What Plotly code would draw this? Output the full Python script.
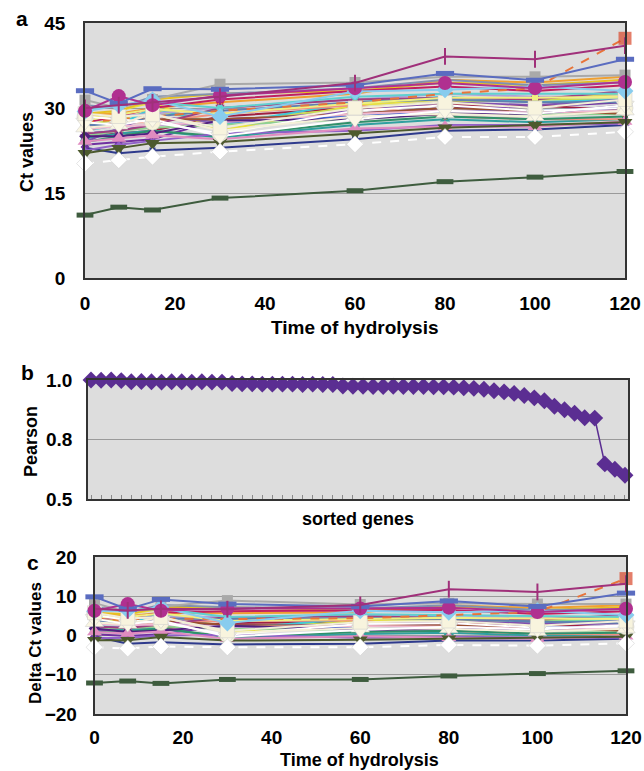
import plotly.graph_objects as go

# ---------------- data ----------------
time_min = [0, 7.5, 15, 30, 60, 80, 100, 120]
x_ticks = [0, 20, 40, 60, 80, 100, 120]

# Ct of the low-Ct (high-abundance) gene, dark green bars
ct_green = [11.1, 12.5, 12.0, 14.1, 15.4, 17.0, 17.8, 18.8]
# normalising Ct per time point (Ct in panel a minus Delta Ct in panel c)
normaliser_ct = [23.2, 24.1, 24.2, 25.3, 26.6, 27.3, 27.5, 27.8]

ct_magenta_plus = [30.0, 30.5, 31.0, 32.0, 34.4, 39.1, 38.6, 41.0]
ct_orange_dash = [27.5, 28.0, 28.5, 29.5, 31.0, 32.5, 33.5, 42.3]
ct_slate = [33.05, 30.8, 33.4, 33.3, 34.0, 36.1, 34.9, 38.6]
ct_magenta_circle = [29.5, 32.1, 30.5, 32.2, 33.5, 34.4, 33.5, 34.6]
ct_grey = [31.4, 30.0, 31.5, 34.2, 34.5, 35.5, 35.5, 35.8]
ct_lightblue = [29.4, 30.5, 31.4, 28.5, 32.9, 33.2, 33.8, 33.0]
ct_pink = [24.1, 24.6, 25.2, 24.5, 26.4, 26.7, 26.7, 27.6]
ct_olive = [22.0, 22.9, 23.8, 24.0, 25.5, 26.5, 27.0, 27.5]
ct_white = [20.2, 20.8, 21.4, 22.3, 23.6, 24.9, 24.9, 25.8]
ct_cream1 = [28.5, 28.0, 27.5, 25.5, 29.5, 30.5, 29.5, 30.0]
ct_cream2 = [26.5, 27.0, 29.0, 26.0, 28.5, 29.0, 28.5, 29.5]
ct_cream3 = [27.5, 27.0, 28.0, 25.0, 28.0, 29.5, 29.0, 30.5]
ct_cream4 = [29.0, 28.5, 28.8, 26.5, 30.0, 31.0, 30.0, 31.5]
ct_navy = [23.0, 22.0, 22.5, 23.0, 24.5, 26.0, 26.2, 27.0]
ct_purple = [23.5, 24.0, 24.5, 28.0, 29.0, 30.0, 30.2, 31.0]
ct_darkred = [25.0, 25.5, 26.0, 28.5, 30.0, 30.5, 30.5, 29.5]
ct_teal = [24.6, 25.5, 26.0, 24.8, 27.0, 28.0, 27.5, 28.0]
ct_yellow = [28.0, 29.5, 31.0, 26.0, 30.5, 31.5, 31.5, 32.5]
ct_yellowgreen = [27.0, 28.0, 29.5, 27.5, 30.0, 31.0, 31.5, 31.5]
ct_cyan = [26.0, 27.0, 30.0, 27.0, 31.0, 32.0, 31.0, 31.5]
ct_orange = [28.8, 29.0, 30.0, 31.0, 32.5, 35.0, 34.5, 35.5]
ct_gold = [29.0, 29.5, 31.5, 32.5, 33.0, 34.5, 34.0, 35.0]
ct_crimson = [27.5, 28.5, 30.0, 31.5, 33.0, 33.8, 33.0, 34.0]
ct_violet = [24.0, 26.5, 28.5, 27.5, 29.5, 31.0, 30.5, 31.5]
ct_blue = [25.5, 26.0, 27.0, 27.5, 28.5, 29.5, 29.5, 30.0]
ct_salmon = [26.5, 27.5, 27.5, 29.0, 30.5, 28.5, 28.0, 28.0]
ct_lavender = [28.0, 28.5, 29.0, 30.0, 31.5, 32.5, 32.0, 32.0]
ct_lightgreen = [25.0, 26.0, 26.5, 27.0, 28.0, 29.0, 28.8, 29.0]
ct_seagreen = [24.0, 25.0, 26.0, 25.0, 27.5, 28.5, 28.0, 28.5]
ct_brown = [26.0, 27.5, 28.0, 28.0, 29.0, 30.0, 29.5, 29.0]
ct_plum = [25.5, 26.0, 27.0, 30.0, 31.5, 31.8, 31.5, 33.0]
ct_steel = [27.0, 27.0, 28.5, 29.5, 31.0, 31.5, 31.0, 31.0]
ct_aqua = [29.8, 30.5, 31.0, 30.0, 32.0, 32.5, 32.5, 32.5]
ct_paleyellow = [27.8, 28.8, 29.8, 29.0, 30.8, 31.8, 31.8, 32.0]
ct_lightpurple = [22.5, 23.5, 24.2, 25.5, 26.0, 27.0, 27.0, 27.2]
ct_lightpink = [26.2, 26.8, 27.0, 27.5, 29.0, 29.5, 29.2, 29.5]
ct_darkpurple = [25.0, 25.0, 25.5, 27.8, 28.0, 29.0, 29.0, 30.5]
ct_greyblue = [30.5, 30.0, 32.0, 32.5, 33.5, 35.0, 34.0, 34.5]

# Pearson correlation of sorted genes (panel b)
pearson_sorted = [1.000, 0.999, 1.000, 0.998,
                  0.994, 0.995, 0.994, 0.993, 0.994, 0.994, 0.993, 0.994, 0.993, 0.993,
                  0.988, 0.987, 0.987, 0.986, 0.986, 0.986, 0.986, 0.985, 0.986, 0.985, 0.985,
                  0.980, 0.979, 0.979, 0.978, 0.978, 0.979, 0.978, 0.978, 0.978, 0.977, 0.977,
                  0.976, 0.974, 0.972, 0.969,
                  0.964, 0.960, 0.955, 0.948, 0.940, 0.930, 0.912, 0.900, 0.888, 0.873, 0.872,
                  0.718, 0.700, 0.680]
pearson_yticks = [0.6, 0.8, 1.0]
pearson_yticktext = ["0.5", "0.8", "1.0"]

# ---------------- styles ----------------
# (values, line colour, dash, marker symbol, marker colour, marker size, marker line width)
series = [
    (ct_green, "#3E5C3E", "solid", "line-ew", "#3E5C3E", 12, 5),
    (ct_navy, "#2E3A8C", "solid", "square", "#2E3A8C", 6, 0),
    (ct_purple, "#7030A0", "solid", "x", "#7030A0", 8, 0),
    (ct_darkred, "#A02040", "solid", "star", "#A02040", 8, 0),
    (ct_teal, "#30A0A0", "solid", "triangle-up", "#30A0A0", 9, 0),
    (ct_yellow, "#E8E040", "solid", "circle", "#E8E040", 7, 0),
    (ct_yellowgreen, "#C8DC50", "solid", "diamond", "#C8DC50", 7, 0),
    (ct_cyan, "#40C8D8", "solid", "square", "#40C8D8", 6, 0),
    (ct_orange, "#F0A030", "solid", "triangle-up", "#F0A030", 8, 0),
    (ct_gold, "#E8C020", "solid", "circle", "#E8C020", 7, 0),
    (ct_crimson, "#C02060", "solid", "x", "#C02060", 8, 0),
    (ct_violet, "#8050B0", "solid", "diamond", "#8050B0", 7, 0),
    (ct_blue, "#4060D0", "solid", "square", "#4060D0", 6, 0),
    (ct_salmon, "#F09080", "solid", "circle", "#F09080", 7, 0),
    (ct_lavender, "#B0A0D8", "solid", "diamond", "#B0A0D8", 7, 0),
    (ct_lightgreen, "#90D090", "solid", "triangle-up", "#90D090", 8, 0),
    (ct_seagreen, "#30906A", "solid", "square", "#30906A", 6, 0),
    (ct_brown, "#9A5030", "solid", "circle", "#9A5030", 7, 0),
    (ct_plum, "#A04080", "solid", "x", "#A04080", 8, 0),
    (ct_steel, "#6080B0", "solid", "diamond", "#6080B0", 7, 0),
    (ct_aqua, "#60D0D0", "solid", "circle", "#60D0D0", 7, 0),
    (ct_paleyellow, "#F0F080", "solid", "square", "#F0F080", 6, 0),
    (ct_lightpurple, "#9060C8", "solid", "triangle-up", "#9060C8", 8, 0),
    (ct_lightpink, "#F0B8D0", "solid", "circle", "#F0B8D0", 7, 0),
    (ct_darkpurple, "#502080", "solid", "diamond", "#502080", 9, 0),
    (ct_greyblue, "#8090B0", "solid", "square", "#8090B0", 6, 0),
    (ct_orange_dash, "#E8743A", "dash", "square", "#D9472B", 13, 0),
    (ct_grey, "#A9A9A9", "solid", "square", "#A9A9A9", 11, 0),
    (ct_pink, "#E08CC0", "solid", "triangle-up", "#E08CC0", 13, 0),
    (ct_olive, "#4D5A2E", "solid", "triangle-down", "#4D5A2E", 13, 0),
    (ct_cream1, "#FFFFFF", "solid", "circle", "#F7F3DA", 16, 0.5),
    (ct_cream2, "#F5F0D8", "solid", "triangle-up", "#FAF6E2", 16, 0.5),
    (ct_cream3, "#FFFFFF", "solid", "triangle-down", "#FBF8E6", 16, 0.5),
    (ct_cream4, "#F2EED8", "solid", "square", "#F8F4DE", 14, 0.5),
    (ct_white, "#FFFFFF", "dash", "diamond", "#FFFFFF", 13, 0.5),
    (ct_lightblue, "#88CCEE", "solid", "diamond", "#88CCEE", 13, 0),
    (ct_magenta_circle, "#B03090", "solid", "circle", "#B03090", 14, 0),
    (ct_slate, "#5A6CC0", "solid", "line-ew", "#5A6CC0", 13, 5),
    (ct_magenta_plus, "#A0307A", "solid", "line-ns", "#A0307A", 12, 2),
]

W, H = 644, 771
def dx(px):
    return px / W
def dy(py):
    return 1 - py / H

fig = go.Figure()

end_only = [0, 0, 0, 0, 0, 0, 0, 1]
for vals, lcol, dash, sym, mcol, msize, mlw in series:
    delta = [v - r for v, r in zip(vals, normaliser_ct)]
    if vals is ct_orange_dash:
        sizes = [msize * e for e in end_only]
    else:
        sizes = msize
    if sym.startswith("line"):
        mline = dict(color=mcol, width=mlw)
    elif mlw:
        mline = dict(color="#C8C8C8", width=mlw)
    else:
        mline = dict(width=0)
    for xa, ya, yv in (("x", "y", vals), ("x3", "y3", delta)):
        fig.add_trace(go.Scatter(
            x=time_min, y=yv, xaxis=xa, yaxis=ya, mode="lines+markers",
            line=dict(color=lcol, width=2, dash=dash),
            marker=dict(symbol=sym, color=mcol, size=sizes, line=mline),
            showlegend=False, cliponaxis=False, hoverinfo="skip"))

fig.add_trace(go.Scatter(
    x=list(range(len(pearson_sorted))), y=pearson_sorted, xaxis="x2", yaxis="y2",
    mode="lines+markers", line=dict(color="#5B2E92", width=1.5),
    marker=dict(symbol="diamond", color="#5B2E92", size=13),
    showlegend=False, cliponaxis=False))

tickfont = dict(family="Liberation Sans, Arial", size=19, color="#000000", weight="bold")
frame = dict(showline=True, linecolor="#333333", linewidth=1.5, mirror=True,
             zeroline=False, tickfont=tickfont, automargin=False)

fig.update_layout(
    width=W, height=H, margin=dict(l=0, r=0, t=0, b=0),
    paper_bgcolor="#FFFFFF", plot_bgcolor="#DDDDDD",
    font=dict(family="Liberation Sans, Arial", color="#000000"),
    xaxis=dict(domain=[dx(85), dx(625)], anchor="y", range=[0, 120], tickvals=x_ticks,
               showgrid=False, ticks="", ticklabelstandoff=7, **frame),
    yaxis=dict(domain=[dy(278), dy(23)], anchor="x", range=[0, 45], tickvals=[0, 15, 30, 45],
               showgrid=True, gridcolor="#9A9A9A", gridwidth=1, ticks="", ticklabelstandoff=14,
               **frame),
    xaxis2=dict(domain=[dx(88), dx(628)], anchor="y2", range=[-0.3, len(pearson_sorted) - 0.7],
                tickvals=list(range(len(pearson_sorted))), showticklabels=False,
                ticks="inside", ticklen=4, tickcolor="#8A8A8A", showgrid=False, **frame),
    yaxis2=dict(domain=[dy(499), dy(380)], anchor="x2", range=[0.6, 1.0],
                tickvals=pearson_yticks, ticktext=pearson_yticktext,
                showgrid=True, gridcolor="#9A9A9A", gridwidth=1, ticks="", ticklabelstandoff=10,
                **frame),
    xaxis3=dict(domain=[dx(94.5), dx(626)], anchor="y3", range=[0, 120], tickvals=x_ticks,
                showgrid=False, ticks="", ticklabelstandoff=5, **frame),
    yaxis3=dict(domain=[dy(714), dy(557)], anchor="x3", range=[-20, 20],
                tickvals=[-20, -10, 0, 10, 20], showgrid=True, gridcolor="#9A9A9A",
                gridwidth=1, ticks="", ticklabelstandoff=12, **frame),
)

def label(text, x, y, size, angle=0):
    fig.add_annotation(text=f"<b>{text}</b>", x=dx(x), y=dy(y), xref="paper", yref="paper",
                       showarrow=False, textangle=angle, xanchor="center", yanchor="middle",
                       font=dict(family="Liberation Sans, Arial", size=size, color="#000000"))

label("a", 22, 18, 21)
label("b", 27, 372, 21)
label("c", 33, 562, 21)
label("Ct values", 27, 152, 18, -90)
label("Pearson", 31, 442, 18, -90)
label("Delta Ct values", 35, 643, 17, -90)
label("Time of hydrolysis", 355, 327, 19)
label("sorted genes", 358, 519, 18)
label("Time of hydrolysis", 360, 760, 18)

# remove the browser's default 8px body margin so the figure fills the window
fig.write_html("out.html", config={"displayModeBar": False},
               post_script="document.body.style.margin='0px';")
